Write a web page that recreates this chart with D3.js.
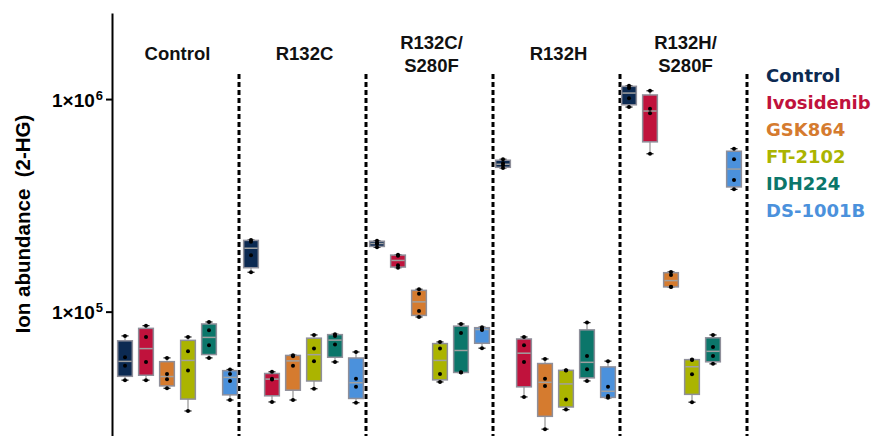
<!DOCTYPE html>
<html>
<head>
<meta charset="utf-8">
<script src="https://cdn.jsdelivr.net/npm/d3@7"></script>
<style>
  html, body { margin: 0; padding: 0; background: #fff; }
  svg { display: block; }
</style>
</head>
<body>
<svg id="chart" width="878" height="436"></svg>
<script>
// ---- Data (4 replicates per box) ----
const groups = ["Control", "R132C", "R132C/S280F", "R132H", "R132H/S280F"];
const treatments = ["Control", "Ivosidenib", "GSK864", "FT-2102", "IDH224", "DS-1001B"];
const colors = ["#0c2a52", "#c0123c", "#d57b2f", "#abb400", "#0b766a", "#4b91dc"];
const yTickValues = [1e5, 1e6];
const yTickLabels = [["1×10", "5"], ["1×10", "6"]];

const controlValues = [
  [76900, 61000, 55700, 47600],
  [217300, 213400, 184100, 153200],
  [215700, 210400, 208100, 200800],
  [521000, 499000, 488000, 474000],
  [1155000, 1126000, 1008000, 917000]
];
const ivosidenibValues = [
  [85900, 76000, 58000, 47600],
  [52100, 48400, 47900, 37600],
  [185000, 183000, 165200, 161000],
  [76000, 69500, 58000, 39700],
  [1094000, 900000, 857000, 553000]
];
const gsk864Values = [
  [60600, 50900, 48100, 43600],
  [62400, 61700, 55600, 38400],
  [127400, 121500, 100800, 94400],
  [59900, 48300, 44700, 28000],
  [153700, 148800, 131100, 130600]
];
const ft2102Values = [
  [76000, 65100, 52800, 34100],
  [77700, 67000, 58500, 43400],
  [72000, 67000, 50900, 46700],
  [53000, 52800, 38600, 34600],
  [59500, 59300, 50800, 37500]
];
const idh224Values = [
  [89400, 81800, 69500, 60600],
  [78300, 76900, 70000, 58000],
  [87500, 79400, 51900, 51700],
  [88800, 61900, 53600, 47200],
  [77700, 68200, 61900, 56800]
];
const ds1001bValues = [
  [53400, 50900, 47200, 38400],
  [64600, 48300, 44300, 37300],
  [84500, 82700, 82000, 67300],
  [58500, 44300, 40100, 39300],
  [584000, 521000, 416000, 376000]
];
const seriesValues = [controlValues, ivosidenibValues, gsk864Values, ft2102Values, idh224Values, ds1001bValues];

// ---- Build box records ----
function prismQuantile(sorted, p) {
  const n = sorted.length;
  let pos = (n + 1) * p;
  if (pos <= 1) return sorted[0];
  if (pos >= n) return sorted[n - 1];
  const lo = Math.floor(pos), frac = pos - lo;
  return sorted[lo - 1] + frac * (sorted[lo] - sorted[lo - 1]);
}
const boxes = [];
groups.forEach((g, gi) => {
  treatments.forEach((t, ti) => {
    const vals = seriesValues[ti][gi].slice().sort(d3.ascending);
    boxes.push({
      key: gi * treatments.length + ti, group: g, treatment: t, ti,
      values: vals,
      min: vals[0], max: vals[vals.length - 1],
      q1: prismQuantile(vals, 0.25), med: d3.median(vals), q3: prismQuantile(vals, 0.75)
    });
  });
});

// ---- Scales ----
const svg = d3.select("#chart");
const y = d3.scaleLog().domain([26000, 2.54e6]).range([436, 13]);
const xBox = d3.scaleBand().domain(d3.range(boxes.length)).range([114.5, 744.5])
  .paddingInner(0.3).paddingOuter(0.15);
const xGroup = d3.scaleBand().domain(groups).range([112, 747]).padding(0);
const color = d3.scaleOrdinal().domain(treatments).range(colors);

// ---- Group separators ----
svg.append("g").selectAll("line").data(groups).join("line")
  .attr("x1", d => xGroup(d) + xGroup.bandwidth())
  .attr("x2", d => xGroup(d) + xGroup.bandwidth())
  .attr("y1", 74).attr("y2", 436)
  .attr("stroke", "#000").attr("stroke-width", 3).attr("stroke-dasharray", "5,3");

// ---- Group labels ----
const glab = svg.append("g").attr("font-family", "'Liberation Sans', Arial, sans-serif")
  .attr("font-weight", "bold").attr("font-size", 18.5).attr("text-anchor", "middle").attr("fill", "#111");
groups.forEach(g => {
  const cx = xGroup(g) + xGroup.bandwidth() / 2 + 2;
  const parts = g.includes("/") ? [g.split("/")[0] + "/", g.split("/")[1]] : [g];
  if (parts.length === 1) {
    glab.append("text").attr("x", cx).attr("y", 60).text(parts[0]);
  } else {
    glab.append("text").attr("x", cx).attr("y", 49).text(parts[0]);
    glab.append("text").attr("x", cx).attr("y", 72).text(parts[1]);
  }
});

// ---- Boxes ----
const bw = xBox.bandwidth();
const bg = svg.append("g").selectAll("g").data(boxes).join("g")
  .attr("transform", d => `translate(${xBox(d.key)},0)`);

// whisker
bg.append("line")
  .attr("x1", bw / 2).attr("x2", bw / 2)
  .attr("y1", d => y(d.max)).attr("y2", d => y(d.min))
  .attr("stroke", "#a8a8a8").attr("stroke-width", 1.5);
// caps
bg.selectAll("line.cap").data(d => [d.min, d.max]).join("line").attr("class", "cap")
  .attr("x1", bw / 2 - 3.5).attr("x2", bw / 2 + 3.5)
  .attr("y1", v => y(v)).attr("y2", v => y(v))
  .attr("stroke", "#222").attr("stroke-width", 1.3);
// box
bg.append("rect")
  .attr("x", 0).attr("width", bw)
  .attr("y", d => y(d.q3)).attr("height", d => Math.max(1, y(d.q1) - y(d.q3)))
  .attr("fill", d => color(d.treatment))
  .attr("stroke", "#8f8f9a").attr("stroke-width", 1.5);
// median
bg.append("line")
  .attr("x1", 0.75).attr("x2", bw - 0.75)
  .attr("y1", d => y(d.med)).attr("y2", d => y(d.med))
  .attr("stroke", "#a0a0a0").attr("stroke-width", 1.5);
// points
bg.selectAll("circle").data(d => d.values).join("circle")
  .attr("cx", bw / 2).attr("cy", v => y(v)).attr("r", 2)
  .attr("fill", "#000");

// ---- Y axis ----
const yAxis = d3.axisLeft(y).tickValues(yTickValues).tickSize(6).tickSizeOuter(0).tickFormat(() => "");
const ax = svg.append("g").attr("transform", "translate(112,0)").call(yAxis);
ax.select(".domain").attr("stroke", "#000").attr("stroke-width", 2);
ax.selectAll(".tick line").attr("stroke", "#000").attr("stroke-width", 2);
ax.selectAll(".tick text").remove();
ax.selectAll(".tick").each(function(d, i) {
  const lab = yTickLabels[yTickValues.indexOf(d)];
  const t = d3.select(this).append("text")
    .attr("x", -9).attr("y", 7).attr("text-anchor", "end")
    .attr("font-family", "'Liberation Sans', Arial, sans-serif").attr("font-weight", "bold")
    .attr("font-size", 19).attr("fill", "#000");
  t.append("tspan").text(lab[0]);
  t.append("tspan").attr("font-size", 13).attr("dy", -7).attr("dx", 1).text(lab[1]);
});

// ---- Y title ----
svg.append("text")
  .attr("transform", "translate(30,224) rotate(-90)")
  .attr("text-anchor", "middle")
  .attr("font-family", "'Liberation Sans', Arial, sans-serif").attr("font-weight", "bold")
  .attr("font-size", 20.5).attr("fill", "#000")
  .style("white-space", "pre")
  .text("Ion abundance  (2-HG)");

// ---- Legend ----
svg.append("g").selectAll("text").data(treatments).join("text")
  .attr("x", 766).attr("y", (d, i) => 82 + i * 27)
  .attr("font-family", "'DejaVu Sans', Verdana, sans-serif").attr("font-weight", "bold")
  .attr("font-size", 18).attr("fill", d => color(d))
  .text(d => d);
</script>
</body>
</html>
